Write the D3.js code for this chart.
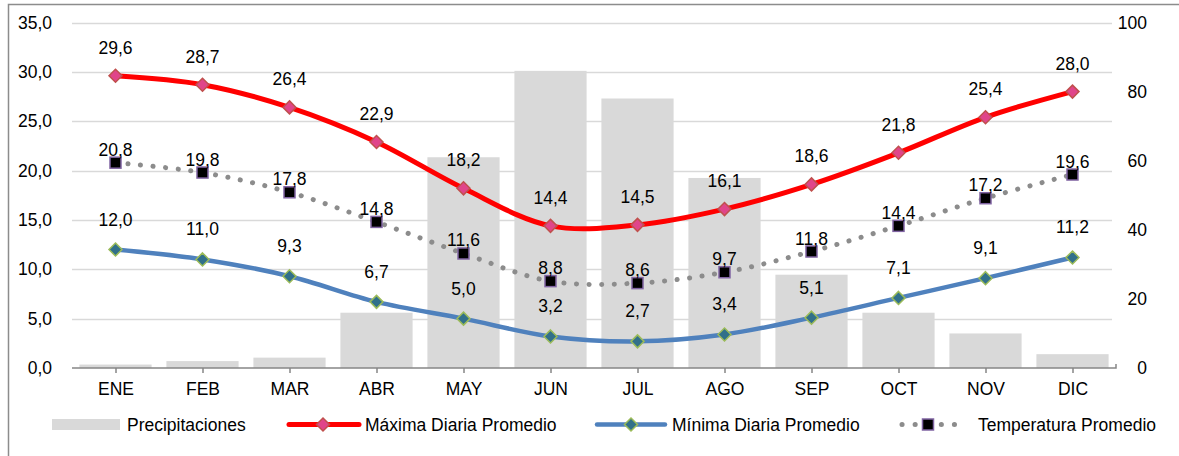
<!DOCTYPE html>
<html>
<head>
<meta charset="utf-8">
<script src="https://d3js.org/d3.v7.min.js"></script>
<style>
  body { margin: 0; background: #fff; }
  text { font-family: "Liberation Sans", Arial, sans-serif; fill: #000; }
</style>
</head>
<body>
<script>

var meses = ["ENE", "FEB", "MAR", "ABR", "MAY", "JUN", "JUL", "AGO", "SEP", "OCT", "NOV", "DIC"];
var precipitaciones = [1, 2, 3, 16, 61, 86, 78, 55, 27, 16, 10, 4];
var maxima = [29.6, 28.7, 26.4, 22.9, 18.2, 14.4, 14.5, 16.1, 18.6, 21.8, 25.4, 28.0];
var minima = [12.0, 11.0, 9.3, 6.7, 5.0, 3.2, 2.7, 3.4, 5.1, 7.1, 9.1, 11.2];
var promedio = [20.8, 19.8, 17.8, 14.8, 11.6, 8.8, 8.6, 9.7, 11.8, 14.4, 17.2, 19.6];
var ticksIzq = [0, 5, 10, 15, 20, 25, 30, 35];
var ticksDer = [0, 20, 40, 60, 80, 100];

var w = 1179, h = 456;
var fs = "17.5px";
var svg = d3.select("body").append("svg")
	.attr("width", w)
	.attr("height", h);

var mLeft = 72, mRight = 1116, mTop = 22.5, mBottom = 368;

var x = d3.scaleBand().domain(meses).range([mLeft, mRight]).paddingInner(0.17).paddingOuter(0.085);
var xc = function(i) { return x(meses[i]) + x.bandwidth() / 2; };
var y = d3.scaleLinear().domain([0, 35]).range([mBottom, mTop]);
var y2 = d3.scaleLinear().domain([0, 100]).range([mBottom, mTop]);
var fmt = function(v) { return d3.format(".1f")(v).replace(".", ","); };
var rombo = "M0,-6.5L6.5,0L0,6.5L-6.5,0Z";

// marco
svg.append("path")
	.attr("d", "M8.5," + h + "V4.5H" + w)
	.attr("fill", "none")
	.attr("stroke", "#8c8c8c")
	.attr("stroke-width", 1.5);

// rejilla
svg.selectAll(".grid")
	.data(ticksIzq.slice(1))
	.enter().append("line")
	.attr("x1", mLeft).attr("x2", mRight - 4)
	.attr("y1", function(d) { return Math.round(y(d)) + 0.5; })
	.attr("y2", function(d) { return Math.round(y(d)) + 0.5; })
	.attr("stroke", "#d9d9d9")
	.attr("stroke-width", 1.5);

// barras
svg.selectAll(".bar")
	.data(precipitaciones)
	.enter().append("rect")
	.attr("x", function(d, i) { return x(meses[i]); })
	.attr("y", function(d) { return y2(d); })
	.attr("width", x.bandwidth())
	.attr("height", function(d) { return mBottom - y2(d); })
	.attr("fill", "#d9d9d9");

// eje x
var ax = svg.append("g").attr("transform", "translate(0," + mBottom + ")")
	.call(d3.axisBottom(d3.scalePoint().domain(meses).range([xc(0), xc(11)])).tickSize(5).tickPadding(10));
ax.select(".domain").attr("d", "M" + mLeft + ",0H" + mRight + "V-4").attr("stroke", "#868686").attr("stroke-width", 1.5).attr("fill", "none");
ax.selectAll(".tick line").attr("stroke", "#868686").attr("stroke-width", 1.5);
ax.selectAll(".tick text").attr("font-size", fs).attr("font-family", null);

// eje izquierdo
var ay = svg.append("g").attr("transform", "translate(" + (mLeft - 20) + ",0)")
	.call(d3.axisLeft(y).tickValues(ticksIzq).tickSize(0).tickPadding(0).tickFormat(fmt));
ay.select(".domain").remove();
ay.selectAll("text").attr("font-size", fs).attr("font-family", null);

// eje derecho
var ad = svg.append("g").attr("transform", "translate(1147,0)")
	.call(d3.axisLeft(y2).tickValues(ticksDer).tickSize(0).tickPadding(0));
ad.select(".domain").remove();
ad.selectAll("text").attr("font-size", fs).attr("font-family", null);

var curva = d3.curveCatmullRom.alpha(0.5);

function serie(datos, color, ancho, dash) {
	var line = d3.line()
		.x(function(d, i) { return xc(i); })
		.y(function(d) { return y(d); })
		.curve(curva);
	var p = svg.append("path")
		.datum(datos)
		.attr("d", line)
		.attr("fill", "none")
		.attr("stroke", color)
		.attr("stroke-width", ancho);
	if (dash) p.attr("stroke-dasharray", dash).attr("stroke-linecap", "round");
}

function rombos(datos, fill, stroke) {
	svg.selectAll(null)
		.data(datos)
		.enter().append("path")
		.attr("d", rombo)
		.attr("transform", function(d, i) { return "translate(" + xc(i) + "," + y(d) + ")"; })
		.attr("fill", fill)
		.attr("stroke", stroke)
		.attr("stroke-width", 1.5);
}

function etiquetas(datos, dy) {
	svg.selectAll(null)
		.data(datos)
		.enter().append("text")
		.attr("x", function(d, i) { return xc(i); })
		.attr("y", function(d) { return y(d) + dy; })
		.attr("text-anchor", "middle")
		.attr("dominant-baseline", "central")
		.attr("font-size", fs)
		.text(fmt);
}

serie(promedio, "#8c8c8c", 5, "0.1 12.5");
serie(maxima, "#ff0000", 5, null);
serie(minima, "#4f81bd", 4.5, null);

rombos(maxima, "#e0458a", "#c0504d");
rombos(minima, "#31708a", "#9bbb59");

svg.selectAll(null)
	.data(promedio)
	.enter().append("rect")
	.attr("x", function(d, i) { return xc(i) - 5.5; })
	.attr("y", function(d) { return y(d) - 5.5; })
	.attr("width", 11).attr("height", 11)
	.attr("fill", "#000")
	.attr("stroke", "#8064a2")
	.attr("stroke-width", 1.5);

etiquetas(maxima, -28);
etiquetas(minima, -30);
etiquetas(promedio, -13);

// leyenda
var ly = 424.5;
var lg = svg.append("g");
lg.append("rect").attr("x", 52).attr("y", ly - 5.5).attr("width", 68).attr("height", 11).attr("fill", "#d9d9d9");
lg.append("text").attr("x", 127).attr("y", ly).attr("dominant-baseline", "central").attr("font-size", fs).text("Precipitaciones");

lg.append("line").attr("x1", 289).attr("x2", 359).attr("y1", ly).attr("y2", ly).attr("stroke", "#ff0000").attr("stroke-width", 5).attr("stroke-linecap", "round");
lg.append("path").attr("d", rombo).attr("transform", "translate(323," + ly + ")").attr("fill", "#e0458a").attr("stroke", "#c0504d").attr("stroke-width", 1.5);
lg.append("text").attr("x", 365).attr("y", ly).attr("dominant-baseline", "central").attr("font-size", fs).text("Máxima Diaria Promedio");

lg.append("line").attr("x1", 597).attr("x2", 665).attr("y1", ly).attr("y2", ly).attr("stroke", "#4f81bd").attr("stroke-width", 4.5).attr("stroke-linecap", "round");
lg.append("path").attr("d", rombo).attr("transform", "translate(631," + ly + ")").attr("fill", "#31708a").attr("stroke", "#9bbb59").attr("stroke-width", 1.5);
lg.append("text").attr("x", 672).attr("y", ly).attr("dominant-baseline", "central").attr("font-size", fs).text("Mínima Diaria Promedio");

lg.append("line").attr("x1", 902).attr("x2", 966).attr("y1", ly).attr("y2", ly).attr("stroke", "#8c8c8c").attr("stroke-width", 5).attr("stroke-dasharray", "0.1 13").attr("stroke-linecap", "round");
lg.append("rect").attr("x", 928 - 5.5).attr("y", ly - 5.5).attr("width", 11).attr("height", 11).attr("fill", "#000").attr("stroke", "#8064a2").attr("stroke-width", 1.5);
lg.append("text").attr("x", 978).attr("y", ly).attr("dominant-baseline", "central").attr("font-size", fs).text("Temperatura Promedio");

</script>
</body>
</html>
